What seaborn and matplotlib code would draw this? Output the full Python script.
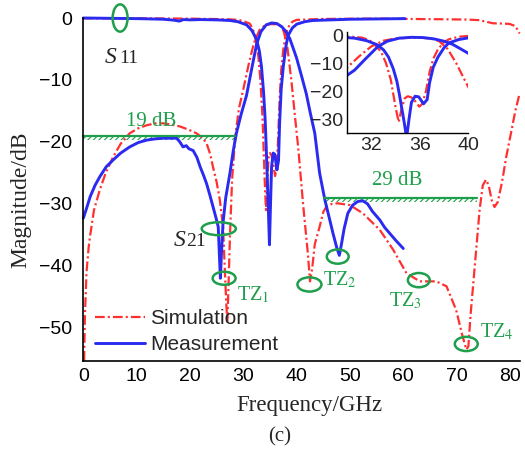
import matplotlib
matplotlib.use("Agg")
import matplotlib.pyplot as plt
from matplotlib.patches import Ellipse
from matplotlib.lines import Line2D
from matplotlib.ticker import MultipleLocator
import pandas as pd
import seaborn as sns

# ---- simulated |S21| (dB) ----
sim_s21_f = [0.15, 0.3, 0.6, 1.0, 1.3, 2.0, 3.1, 4.2, 5.6, 7.0, 8.7, 10.3, 11.9, 13.5, 15.0,
             16.6, 18.1, 19.7, 21.2, 22.3, 23.1, 23.8, 24.3, 25.0, 25.6, 26.2, 26.5, 26.8,
             27.0, 27.2, 27.5, 27.9, 28.5, 29.2, 30.0, 31.0, 32.0, 33.0, 34.0, 35.0, 36.2,
             37.0, 37.6, 38.3, 39.0, 39.7, 40.3, 41.2, 42.1, 42.5, 42.9, 43.4, 44.3, 45.0,
             45.6, 46.6, 47.7, 50.0, 52.4, 55.6, 58.1, 60.6, 63.1, 66.2, 68.1, 69.9, 71.0,
             71.8, 72.2, 72.6, 73.2, 73.7, 74.3, 74.9, 75.5, 76.0, 76.6, 77.1, 77.7, 78.5,
             79.3, 80.2, 81.0, 81.8]
sim_s21_db = [-55.3, -48.0, -41.0, -37.0, -35.0, -31.0, -27.7, -25.0, -22.4, -20.3, -18.6, -17.8,
              -17.3, -17.0, -17.0, -17.2, -17.5, -18.0, -18.6, -19.3, -20.2, -22.0, -24.0, -26.5,
              -29.4, -33.7, -40.0, -46.0, -49.0, -44.0, -35.0, -26.0, -19.0, -14.5, -11.5, -7.5,
              -4.0, -2.0, -1.2, -1.0, -1.0, -1.3, -2.2, -5.0, -10.0, -16.0, -21.0, -30.0, -38.0,
              -42.5, -40.5, -36.5, -33.7, -31.3, -30.4, -30.0, -29.9, -30.2, -31.5, -34.2, -37.4,
              -41.2, -42.5, -42.5, -43.3, -47.1, -51.0, -53.5, -53.0, -48.0, -42.0, -37.0, -31.0,
              -27.0, -26.1, -27.0, -29.5, -30.5, -29.7, -26.5, -22.4, -18.5, -15.0, -12.2]

# ---- simulated |S11| (dB) ----
sim_s11_f = [0.0, 10.0, 20.0, 27.0, 29.0, 30.0, 31.2, 31.8, 32.2, 32.8, 33.2, 33.6, 34.0, 34.25,
             34.5, 34.75, 35.0, 35.3, 35.6, 35.95, 36.2, 36.5, 36.8, 37.1, 37.5, 38.0, 38.4,
             39.2, 40.0, 45.0, 55.0, 66.8, 72.0, 74.3, 75.5, 76.8, 78.5, 79.9, 81.0, 81.8]
sim_s11_db = [-0.05, -0.05, -0.1, -0.2, -0.3, -0.5, -0.9, -1.8, -3.0, -6.0, -10.0, -16.0, -26.0,
              -31.0, -26.0, -22.5, -21.8, -22.2, -23.5, -25.5, -24.5, -20.0, -13.2, -8.5, -5.0,
              -2.5, -1.5, -0.6, -0.3, -0.15, -0.1, -0.2, -0.25, -0.35, -0.6, -0.85, -0.9, -0.95,
              -1.3, -2.5]

# ---- measured |S21| (dB) ----
meas_s21_f = [0.0, 0.5, 1.3, 2.2, 3.1, 4.3, 5.6, 7.0, 8.7, 10.3, 11.9, 13.5, 15.0, 16.3, 17.5,
              18.1, 18.7, 19.3, 19.8, 20.6, 21.3, 21.9, 22.5, 23.1, 23.7, 24.3, 24.8, 25.3, 25.5,
              25.7, 25.9, 26.2, 26.7, 27.5, 28.1, 28.7, 29.6, 30.6, 31.5, 32.5, 33.3, 34.3, 35.3,
              36.3, 37.2, 38.0, 38.7, 39.4, 40.0, 40.9, 41.8, 42.6, 43.4, 44.3, 45.3, 46.1, 46.8,
              47.5, 48.0, 48.4, 48.9, 49.6, 50.5, 51.5, 52.4, 53.3, 54.2, 55.0, 55.6, 56.5, 57.5,
              58.7, 60.0]
meas_s21_db = [-32.3, -31.0, -28.8, -27.0, -25.6, -24.0, -22.9, -21.8, -20.8, -20.1, -19.7, -19.5,
               -19.4, -19.4, -19.4, -20.0, -20.8, -20.6, -21.1, -21.4, -22.5, -24.0, -25.3, -26.7,
               -28.5, -30.4, -32.0, -33.7, -38.0, -42.0, -38.0, -33.0, -29.0, -25.0, -21.5, -18.6,
               -15.5, -12.5, -8.5, -4.2, -2.2, -1.1, -0.8, -0.9, -1.4, -2.2, -3.3, -5.0, -6.5,
               -9.3, -12.2, -15.5, -18.6, -25.0, -29.4, -32.2, -34.7, -37.0, -38.3, -36.5, -34.0,
               -31.5, -30.2, -29.6, -29.5, -30.0, -31.2, -32.0, -32.6, -33.8, -34.8, -36.0, -37.2]

# ---- measured |S11| (dB) ----
meas_s11_f = [0.0, 5.0, 10.0, 15.0, 17.0, 18.0, 18.8, 20.0, 22.0, 25.0, 27.5, 29.0, 30.6, 31.6,
              32.5, 33.0, 33.4, 33.8, 34.1, 34.3, 34.5, 34.7, 34.9, 35.1, 35.3, 35.6, 35.9, 36.3,
              36.6, 36.8, 37.1, 37.5, 38.0, 38.4, 39.2, 40.0, 41.5, 43.0, 50.0, 60.3]
meas_s11_db = [0.0, -0.05, -0.1, -0.2, -0.35, -0.5, -0.25, -0.3, -0.25, -0.3, -0.4, -0.6, -1.1,
               -2.0, -3.5, -5.3, -7.8, -12.0, -16.5, -21.0, -26.0, -31.0, -36.6, -30.0, -24.0,
               -21.8, -22.0, -24.5, -23.0, -17.0, -11.5, -7.8, -4.5, -2.8, -1.6, -1.0, -0.6, -0.4,
               -0.2, -0.1]

# ---- rejection levels and annotations ----
rej_levels = [19, 29]
rej_spans = [(0.0, 28.5), (45.2, 73.9)]
rej_label_pos = [(12.8, -16.7), (58.9, -26.2)]

tz_names = ["TZ$_{1}$", "TZ$_{2}$", "TZ$_{3}$", "TZ$_{4}$"]
tz_label_pos = [(28.8, -44.7), (44.9, -42.3), (57.4, -45.6), (74.3, -50.6)]
# ellipse markers: (centre f, centre dB, width GHz, height dB)
markers = [(6.9, 0.0, 2.8, 4.4), (25.4, -34.0, 6.4, 2.1), (26.4, -42.0, 4.3, 2.1),
           (42.4, -43.0, 4.5, 2.3), (47.7, -38.5, 4.1, 2.3), (62.9, -42.3, 4.1, 2.3),
           (71.8, -52.6, 4.3, 2.3)]

RED = "#ff3030"
BLUE = "#2a2af2"
GREEN = "#1f9e4c"
DASHDOT = (0, (7, 2.2, 1.5, 2.2))

sns.set_style("white")
plt.rcParams.update({
    "font.family": ["Liberation Sans", "DejaVu Sans"],
    "mathtext.fontset": "stix",
    "lines.scale_dashes": False,
    "hatch.color": GREEN,
    "hatch.linewidth": 0.8,
})
SERIF = ["Liberation Serif", "DejaVu Serif"]

frames = {
    "sim_s21": pd.DataFrame({"f": sim_s21_f, "db": sim_s21_db}),
    "sim_s11": pd.DataFrame({"f": sim_s11_f, "db": sim_s11_db}),
    "meas_s21": pd.DataFrame({"f": meas_s21_f, "db": meas_s21_db}),
    "meas_s11": pd.DataFrame({"f": meas_s11_f, "db": meas_s11_db}),
}
styles = {
    "sim_s21": dict(color=RED, lw=1.6, linestyle=DASHDOT),
    "sim_s11": dict(color=RED, lw=1.6, linestyle=DASHDOT),
    "meas_s21": dict(color=BLUE, lw=2.1),
    "meas_s11": dict(color=BLUE, lw=2.1),
}

fig = plt.figure(figsize=(5.25, 4.49), dpi=100)
ax = fig.add_axes([0.1587, 0.1967, 0.831, 0.7632])

for key in ["sim_s21", "sim_s11", "meas_s21", "meas_s11"]:
    sns.lineplot(data=frames[key], x="f", y="db", ax=ax, sort=False, estimator=None,
                 clip_on=False, **styles[key])

ax.set_xlim(0, 81.8)
ax.set_ylim(-55.3, 0)
ax.xaxis.set_major_locator(MultipleLocator(10))
ax.xaxis.set_minor_locator(MultipleLocator(5))
ax.yaxis.set_major_locator(MultipleLocator(10))
ax.yaxis.set_minor_locator(MultipleLocator(5))
ax.tick_params(which="major", direction="in", length=5, width=1.1, labelsize=14,
               colors="black")
ax.tick_params(which="minor", direction="in", length=3, width=1.0)
ax.tick_params(axis="y", which="major", pad=8)
ax.tick_params(axis="x", which="major", pad=5)
for side in ["top", "right"]:
    ax.spines[side].set_visible(False)
for side in ["left", "bottom"]:
    ax.spines[side].set_color("black")
    ax.spines[side].set_linewidth(1.2)

ax.set_xlabel("Frequency/GHz", family=SERIF, fontsize=16.5)
ax.set_ylabel("Magnitude/dB", family=SERIF, fontsize=17)
ax.xaxis.set_label_coords(0.517, -0.10)
ax.yaxis.set_label_coords(-0.118, 0.47)

# rejection-level reference lines with hatched underside
for lvl, (f0, f1), (tx, ty) in zip(rej_levels, rej_spans, rej_label_pos):
    ax.plot([f0, f1], [-lvl, -lvl], color=GREEN, lw=1.6, clip_on=False)
    ax.fill_between([f0, f1], [-lvl - 0.7, -lvl - 0.7], [-lvl, -lvl], facecolor="none",
                    edgecolor=GREEN, hatch="//////", linewidth=0)
    ax.text(tx, ty, f"{lvl} dB", color=GREEN, family=SERIF, fontsize=15,
            ha="center", va="center")

for (cx, cy, w, h) in markers:
    ax.add_patch(Ellipse((cx, cy), w, h, fill=False, edgecolor=GREEN, lw=1.8,
                         clip_on=False, zorder=5))

for name, (tx, ty) in zip(tz_names, tz_label_pos):
    ax.text(tx, ty, name, color=GREEN, family=SERIF, fontsize=14.5,
            ha="left", va="center")

# S-parameter labels
ax.text(4.1, -7.3, "S", style="italic", family=SERIF, fontsize=17, va="baseline")
ax.text(6.7, -7.3, "11", family=SERIF, fontsize=14, va="baseline")
ax.text(16.9, -36.8, "S", style="italic", family=SERIF, fontsize=17, va="baseline")
ax.text(19.3, -36.8, "21", family=SERIF, fontsize=14, va="baseline")

handles = [Line2D([], [], color=RED, lw=1.6, linestyle=DASHDOT),
           Line2D([], [], color=BLUE, lw=2.1)]
ax.legend(handles, ["Simulation", "Measurement"], loc="lower left",
          bbox_to_anchor=(0.027, 0.02), frameon=False, fontsize=15, borderpad=0,
          borderaxespad=0, handlelength=2.4, handletextpad=0.25, labelspacing=0.32)

# zoomed view of the passband
ins = fig.add_axes([0.6615, 0.7031, 0.2305, 0.2263])
ins.patch.set_alpha(0)
for key in ["sim_s21", "sim_s11", "meas_s21", "meas_s11"]:
    sns.lineplot(data=frames[key], x="f", y="db", ax=ins, sort=False, estimator=None,
                 **styles[key])
ins.set_xlim(30, 40)
ins.set_ylim(-35, 1.2)
ins.set_xticks([32, 36, 40])
ins.set_xticks([34, 38], minor=True)
ins.set_yticks([0, -10, -20, -30])
ins.set_xlabel("")
ins.set_ylabel("")
ins.tick_params(which="major", direction="in", length=4, width=1.0, labelsize=14, pad=3)
ins.tick_params(which="minor", direction="in", length=2.5, width=0.9)
for side in ["top", "right"]:
    ins.spines[side].set_visible(False)
for side in ["left", "bottom"]:
    ins.spines[side].set_color("black")
    ins.spines[side].set_linewidth(1.0)

fig.text(0.533, 0.027, "(c)", family=SERIF, fontsize=15, ha="center", va="center")

fig.savefig("out.png", dpi=100)
